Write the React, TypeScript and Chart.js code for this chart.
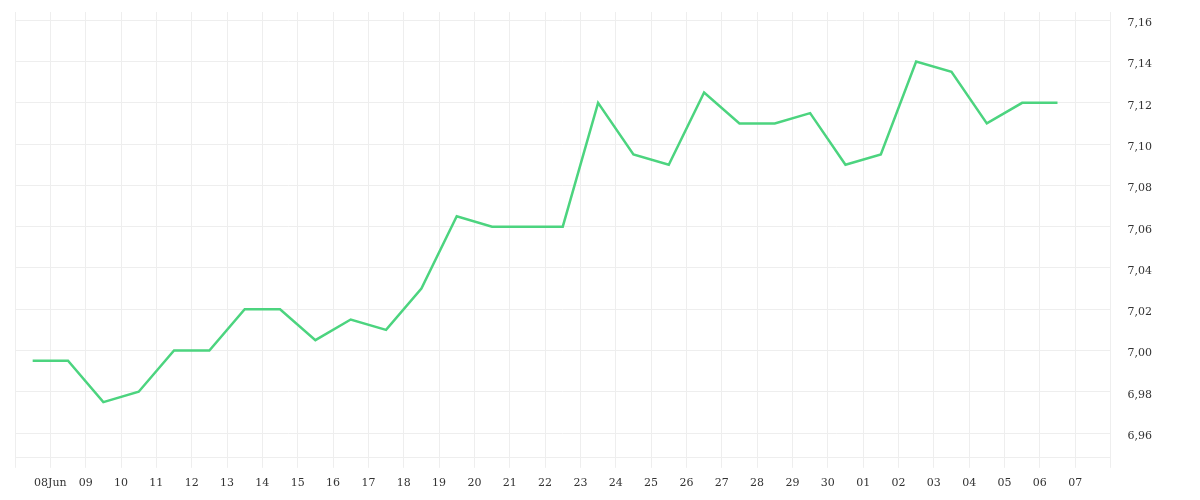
import React, { useEffect, useRef } from "react";
import { Chart, registerables } from "chart.js";

Chart.register(...registerables);

const dayLabels = [
  "08Jun", "09", "10", "11", "12", "13", "14", "15", "16", "17", "18", "19", "20", "21", "22",
  "23", "24", "25", "26", "27", "28", "29", "30", "01", "02", "03", "04", "05", "06", "07",
];

const rateValues = [
  6.995, 6.995, 6.975, 6.98, 7.0, 7.0, 7.02, 7.02, 7.005, 7.015, 7.01, 7.03, 7.065, 7.06, 7.06,
  7.06, 7.12, 7.095, 7.09, 7.125, 7.11, 7.11, 7.115, 7.09, 7.095, 7.14, 7.135, 7.11, 7.12, 7.12,
];

const yTicks = [6.96, 6.98, 7.0, 7.02, 7.04, 7.06, 7.08, 7.1, 7.12, 7.14, 7.16];

export default function App() {
  const ref = useRef<HTMLCanvasElement | null>(null);

  useEffect(() => {
    if (!ref.current) return;
    const points = rateValues.map((v, i) => ({ x: i - 0.5, y: v }));
    const font = { family: "'DejaVu Serif', serif", size: 11 };
    const chart = new Chart(ref.current, {
      type: "line",
      data: {
        datasets: [
          {
            data: points,
            borderColor: "#4cd47f",
            borderWidth: 2.5,
            pointRadius: 0,
            tension: 0,
            fill: false,
          },
        ],
      },
      options: {
        animation: false,
        responsive: true,
        maintainAspectRatio: false,
        layout: { padding: { left: 15, top: 12, right: 48, bottom: 1 } },
        plugins: { legend: { display: false }, tooltip: { enabled: false } },
        scales: {
          x: {
            type: "linear",
            min: -1,
            max: 30,
            grid: { color: "#eeeeee", tickLength: 10, drawTicks: true },
            border: { color: "#eeeeee" },
            ticks: {
              stepSize: 1,
              autoSkip: false,
              maxRotation: 0,
              padding: 9,
              color: "#333",
              font,
              callback: (v: any) => {
                const i = Math.round(Number(v));
                return i >= 0 && i < dayLabels.length ? dayLabels[i] : "";
              },
            },
          },
          y: {
            position: "right",
            min: 6.948,
            max: 7.164,
            grid: { color: "#eeeeee", drawTicks: true, tickLength: 17, tickColor: "rgba(0,0,0,0)" },
            border: { color: "#eeeeee" },
            afterBuildTicks: (scale: any) => {
              scale.ticks = yTicks.map((v) => ({ value: v }));
            },
            ticks: {
              padding: 0,
              labelOffset: 3,
              color: "#333",
              font,
              callback: (v: any) => Number(v).toFixed(2).replace(".", ","),
            },
          },
        },
      },
    });
    return () => chart.destroy();
  }, []);

  return (
    <div style={{ position: "absolute", left: 0, top: 0, width: 1200, height: 500 }}>
      <canvas ref={ref} />
    </div>
  );
}
